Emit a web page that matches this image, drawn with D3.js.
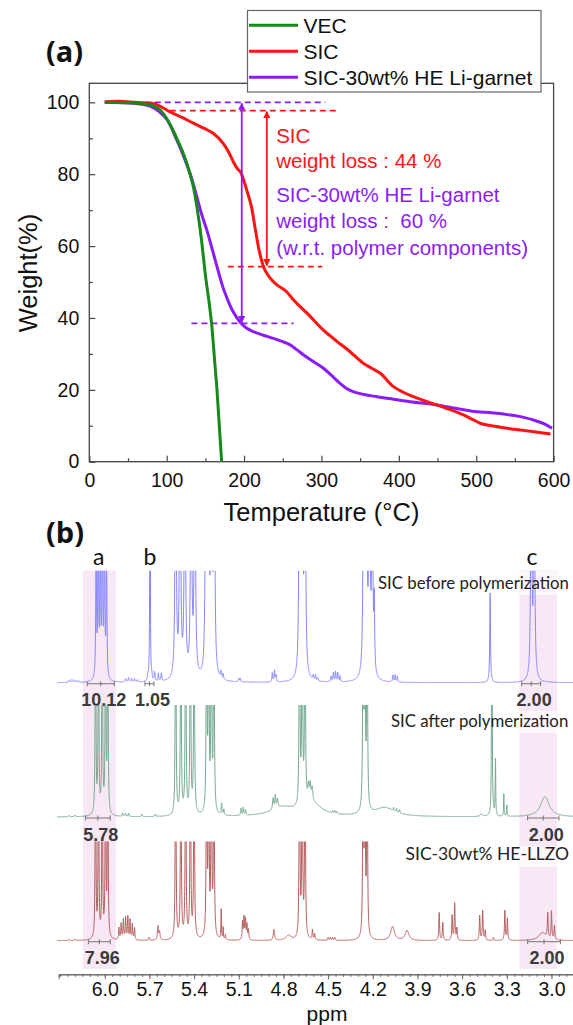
<!DOCTYPE html>
<html>
<head>
<meta charset="utf-8">
<script src="https://cdn.jsdelivr.net/npm/d3@7/dist/d3.min.js"></script>
<style>
  body { margin: 0; background: #fff; }
  svg { display: block; }
</style>
</head>
<body>
<svg id="chart" width="573" height="1025"></svg>
<script>
"use strict";

// /////// DATA

// (a) TGA curves: [temperature °C, weight %]
const vecCurve = [
  [20, 100], [60, 99.8], [80, 99.2], [92, 97.8], [100, 95.5], [108, 92.3], [115, 89],
  [122, 85.5], [130, 80.2], [135, 76], [139, 71], [145, 61.7], [150, 52], [155, 44],
  [158, 38.5], [162, 28], [165, 20], [168, 10], [171, 0], [173, -6],
];
const sicCurve = [
  [20, 100.2], [40, 100.3], [60, 100], [83, 99.7], [95, 98.5], [104, 97.4], [120, 95.8],
  [134.5, 94.2], [150, 92.6], [160, 91.4], [173, 88.6], [180, 86.2], [186, 83.5], [191, 81.6],
  [196, 80.4], [200, 78], [205, 74.5], [210, 70.5], [214, 65.4], [218.5, 59.8], [225, 54.3],
  [233, 51.3], [242, 49.3], [255, 47.3], [264, 45], [283, 41], [302.6, 36.6], [320, 33.5],
  [337, 30.6], [354, 27.4], [365, 26], [376, 24.6], [393, 20.9], [405, 19.4], [419, 18.1],
  [449, 15.8], [470, 14.2], [483.6, 13], [495, 11.8], [505, 10.7], [520, 10], [540, 9.3],
  [570, 8.5], [596, 7.7],
];
const garnetCurve = [
  [20, 100], [60, 99.7], [80, 98.8], [90, 97.5], [100, 95.3], [105, 93.5], [112, 90],
  [120, 86], [128, 81.5], [132, 79], [139, 73.7], [145, 69], [151.8, 64.5], [158, 59.8],
  [166, 53.5], [172, 49], [178, 45.5], [184, 42.5], [190, 40.3], [195, 38.8], [203, 37.2],
  [212, 36.2], [225, 35.2], [238, 34.3], [250, 33.4], [259.5, 32.5], [268, 31.2], [277, 29.7],
  [290, 27.8], [302.6, 26], [313, 24], [324, 21.8], [333, 20.3], [341, 19.5], [355, 18.7],
  [371.6, 18.1], [390, 17.5], [414.7, 16.7], [449, 15.8], [475, 14.8], [501, 13.9],
  [520, 13.6], [544, 13], [560, 12.4], [574, 11.6], [588, 10.5], [598, 9.3],
];

const seriesNames = ["VEC", "SIC", "SIC-30wt% HE Li-garnet"];
const tempTicks = [0, 100, 200, 300, 400, 500, 600];
const weightTicks = [0, 20, 40, 60, 80, 100];

// dashed guide lines: [weight, fromT, toT]
const sicGuides = [[97.7, 104, 320], [54.3, 179, 301]];
const garnetGuides = [[100, 20, 305], [38.5, 132, 264]];
// arrows: [temperature, from weight, to weight]
const sicArrow = [229.4, 97.7, 54.3];
const garnetArrow = [197, 100, 38.5];

const sicNote = ["SIC", "weight loss : 44 %"];
const garnetNote = ["SIC-30wt% HE Li-garnet", "weight loss :  60 %", "(w.r.t. polymer components)"];

// (b) 1H NMR peak tables: [ppm, height (1 = band height), half width ppm]
const beforePeaks = [
  [6.24, 0.02, 0.004], [6.22, 0.025, 0.004], [6.2, 0.02, 0.004], [6.18, 0.015, 0.004],
  [6.058, 1.3, 0.0028], [6.044, 1.6, 0.0028], [6.03, 1.5, 0.0028], [6.016, 1.7, 0.0028],
  [6.002, 1.5, 0.0028], [5.988, 1.2, 0.0028],
  [5.86, 0.03, 0.004], [5.84, 0.04, 0.004], [5.82, 0.03, 0.004], [5.8, 0.03, 0.004], [5.78, 0.02, 0.004],
  [5.71, 0.05, 0.003], [5.696, 3, 0.0018], [5.684, 0.04, 0.003],
  [5.665, 0.08, 0.003], [5.64, 0.07, 0.003], [5.62, 0.07, 0.003],
  [5.524, 3, 0.004], [5.494, 3, 0.004], [5.462, 3, 0.004], [5.42, 3, 0.004], [5.395, 3, 0.004],
  [5.321, 3, 0.004], [5.304, 3, 0.004], [5.284, 3, 0.004], [5.265, 3, 0.004],
  [5.22, 0.06, 0.003], [5.205, 0.05, 0.003], [5.1, 0.03, 0.003], [5.09, 0.03, 0.003],
  [4.875, 0.08, 0.003], [4.86, 0.1, 0.003], [4.85, 0.06, 0.003],
  [4.692, 3, 0.004], [4.674, 3, 0.004], [4.655, 3, 0.004],
  [4.6, 0.04, 0.003], [4.585, 0.05, 0.003], [4.57, 0.03, 0.003],
  [4.48, 0.05, 0.003], [4.465, 0.08, 0.003], [4.45, 0.09, 0.003], [4.435, 0.08, 0.003], [4.42, 0.05, 0.003],
  [4.261, 3, 0.004], [4.243, 3, 0.004], [4.222, 3, 0.004], [4.203, 2, 0.004], [4.19, 0.6, 0.003],
  [4.065, 0.06, 0.003], [4.05, 0.06, 0.003], [4.035, 0.05, 0.003],
  [3.412, 0.8, 0.003],
  [3.136, 2.5, 0.004], [3.116, 2.5, 0.004],
];
const afterPeaks = [
  [6.24, 0.01, 0.004], [6.2, 0.012, 0.004],
  [6.062, 3, 0.0022], [6.042, 3, 0.0022], [6.017, 3, 0.0022], [5.995, 3, 0.0022], [5.98, 3, 0.0022],
  [5.88, 0.03, 0.003], [5.86, 0.03, 0.003], [5.84, 0.03, 0.003], [5.75, 0.02, 0.003], [5.66, 0.02, 0.003],
  [5.524, 3, 0.0025], [5.489, 3, 0.0025], [5.457, 3, 0.0025], [5.425, 3, 0.0025], [5.4, 3, 0.0025],
  [5.316, 3, 0.0025], [5.302, 3, 0.0025], [5.284, 3, 0.0025], [5.267, 3, 0.0025],
  [5.215, 0.1, 0.003], [5.2, 0.05, 0.003],
  [5.085, 0.06, 0.003], [5.07, 0.07, 0.003], [5.055, 0.05, 0.003],
  [4.8, 0.08, 0.1], [4.6, 0.1, 0.07], [4.87, 0.1, 0.004], [4.855, 0.12, 0.004], [4.84, 0.08, 0.004],
  [4.692, 3, 0.0025], [4.674, 3, 0.0025], [4.655, 3, 0.0025],
  [4.632, 0.14, 0.005], [4.62, 0.15, 0.005], [4.607, 0.12, 0.005],
  [4.47, 0.02, 0.003], [4.455, 0.025, 0.003], [4.44, 0.02, 0.003],
  [4.265, 3, 0.0025], [4.253, 3, 0.0025], [4.238, 3, 0.0025],
  [4.12, 0.08, 0.08], [4.06, 0.03, 0.003], [4.04, 0.03, 0.003], [4.02, 0.03, 0.003],
  [3.47, 0.02, 0.01],
  [3.4, 3, 0.002], [3.376, 0.5, 0.002], [3.32, 0.2, 0.002], [3.3, 0.1, 0.002],
  [3.044, 0.18, 0.035],
];
const llzoPeaks = [
  [6.24, 0.01, 0.004], [6.2, 0.012, 0.004],
  [6.062, 3, 0.0022], [6.042, 3, 0.0022], [6.017, 3, 0.0022], [5.995, 3, 0.0022], [5.98, 3, 0.0022],
  [5.905, 0.12, 0.003], [5.89, 0.16, 0.003], [5.875, 0.2, 0.003], [5.86, 0.22, 0.003],
  [5.845, 0.23, 0.003], [5.83, 0.2, 0.003], [5.815, 0.16, 0.003], [5.8, 0.12, 0.003],
  [5.704, 0.03, 0.003], [5.643, 0.14, 0.004], [5.632, 0.08, 0.004],
  [5.524, 3, 0.0025], [5.489, 3, 0.0025], [5.457, 3, 0.0025], [5.425, 3, 0.0025], [5.4, 3, 0.0025],
  [5.316, 3, 0.0025], [5.302, 3, 0.0025], [5.284, 3, 0.0025], [5.267, 3, 0.0025],
  [5.218, 0.3, 0.002], [5.205, 0.12, 0.002], [5.19, 0.05, 0.003],
  [5.075, 0.18, 0.003], [5.065, 0.22, 0.003], [5.055, 0.2, 0.003], [5.045, 0.15, 0.003], [5.035, 0.1, 0.003],
  [4.864, 0.11, 0.005], [4.766, 0.05, 0.02],
  [4.692, 3, 0.0025], [4.674, 3, 0.0025], [4.655, 3, 0.0025],
  [4.605, 0.1, 0.003], [4.59, 0.06, 0.003],
  [4.5, 0.03, 0.003], [4.485, 0.03, 0.003], [4.47, 0.03, 0.003], [4.455, 0.03, 0.003],
  [4.265, 3, 0.0025], [4.253, 3, 0.0025], [4.238, 3, 0.0025],
  [4.067, 0.14, 0.015], [3.97, 0.1, 0.015],
  [3.754, 0.28, 0.003], [3.73, 0.18, 0.003], [3.667, 0.25, 0.003], [3.65, 0.37, 0.003], [3.635, 0.12, 0.003],
  [3.482, 0.25, 0.003], [3.462, 0.3, 0.003], [3.445, 0.1, 0.003], [3.39, 0.03, 0.003],
  [3.313, 0.3, 0.003], [3.296, 0.22, 0.003],
  [3.06, 0.08, 0.03], [3.025, 0.25, 0.003], [3.0, 0.28, 0.003], [2.98, 0.14, 0.003],
];

// integrals: [from ppm, to ppm, value]
const beforeIntegrals = [[6.118, 5.936, "10.12"], [5.73, 5.67, "1.05"], [3.2, 3.073, "2.00"]];
const afterIntegrals = [[6.13, 5.963, "5.78"], [3.16, 2.95, "2.00"]];
const llzoIntegrals = [[6.11, 5.963, "7.96"], [3.16, 2.94, "2.00"]];

const spectrumNames = ["SIC before polymerization", "SIC after polymerization", "SIC-30wt% HE-LLZO"];
const peakLetters = [["a", 6.04], ["b", 5.696], ["c", 3.13]];
const shadedRanges = [[6.147, 5.924], [3.215, 2.963]];
const ppmTicks = [6.0, 5.7, 5.4, 5.1, 4.8, 4.5, 4.2, 3.9, 3.6, 3.3, 3.0];

// /////// CHART (a)

const svg = d3.select("#chart");
const font = "'Liberation Sans', Arial, sans-serif";
const colors = { vec: "#17891a", sic: "#ff1414", garnet: "#8b1cf7" };

const x = d3.scaleLinear().domain([0, 600]).range([89.3, 553.6]);
const y = d3.scaleLinear().domain([0, 105.3]).range([461.7, 83.3]);

const topG = svg.append("g");

const clipA = svg.append("clipPath").attr("id", "clipA");
clipA.append("rect").attr("x", 89.3).attr("y", 83.3).attr("width", 464.3).attr("height", 378.4);

// axes with inward ticks
topG.append("g").attr("transform", "translate(0,461.7)")
  .call(d3.axisBottom(x).tickValues(tempTicks).tickSize(-6).tickPadding(11.5));
topG.append("g").attr("transform", "translate(0,461.7)")
  .call(d3.axisBottom(x).tickValues([50, 150, 250, 350, 450, 550]).tickSize(-3.5).tickFormat(""));
topG.append("g").attr("transform", "translate(89.3,0)")
  .call(d3.axisLeft(y).tickValues(weightTicks).tickSize(-6).tickPadding(10));
topG.append("g").attr("transform", "translate(89.3,0)")
  .call(d3.axisLeft(y).tickValues([10, 30, 50, 70, 90]).tickSize(-3.5).tickFormat(""));
topG.selectAll(".domain").remove();
topG.selectAll(".tick line").attr("stroke", "#444").attr("stroke-width", 1.2);
topG.selectAll(".tick text").attr("font-family", font).attr("font-size", 19.5).attr("fill", "#111");

// frame
topG.append("rect").attr("x", 89.3).attr("y", 83.3).attr("width", 464.3).attr("height", 378.4)
  .attr("fill", "none").attr("stroke", "#444").attr("stroke-width", 1.3);

topG.append("text").attr("x", 321.5).attr("y", 521).attr("text-anchor", "middle")
  .attr("font-family", font).attr("font-size", 25.5).attr("fill", "#111").text("Temperature (°C)");
topG.append("text").attr("transform", "translate(37,273) rotate(-90)").attr("text-anchor", "middle")
  .attr("font-family", font).attr("font-size", 25.5).attr("fill", "#111").text("Weight(%)");
topG.append("text").attr("x", 46).attr("y", 62).attr("font-family", "'Open Sans', sans-serif")
  .attr("font-weight", "bold").attr("font-size", 29).attr("fill", "#111").text("(a)");

// guide lines and arrows
svg.append("defs").html(`
  <marker id="arRed" viewBox="0 0 10 10" refX="9" refY="5" markerWidth="4" markerHeight="4" orient="auto-start-reverse">
    <path d="M0,0 L10,5 L0,10 z" fill="${colors.sic}"/></marker>
  <marker id="arPur" viewBox="0 0 10 10" refX="9" refY="5" markerWidth="4" markerHeight="4" orient="auto-start-reverse">
    <path d="M0,0 L10,5 L0,10 z" fill="${colors.garnet}"/></marker>`);

function guides(list, color) {
  topG.selectAll(null).data(list).join("line")
    .attr("x1", (d) => x(d[1])).attr("x2", (d) => x(d[2]))
    .attr("y1", (d) => y(d[0])).attr("y2", (d) => y(d[0]))
    .attr("stroke", color).attr("stroke-width", 1.8).attr("stroke-dasharray", "6,4");
}
guides(garnetGuides, colors.garnet);
guides(sicGuides, colors.sic);

function arrow(a, color, marker) {
  topG.append("line").attr("x1", x(a[0])).attr("x2", x(a[0]))
    .attr("y1", y(a[1]) + 1).attr("y2", y(a[2]) - 1)
    .attr("stroke", color).attr("stroke-width", 1.8)
    .attr("marker-start", `url(#${marker})`).attr("marker-end", `url(#${marker})`);
}

// curves
const line = d3.line().x((d) => x(d[0])).y((d) => y(d[1])).curve(d3.curveMonotoneX);
const curveG = topG.append("g").attr("clip-path", "url(#clipA)");
[[garnetCurve, colors.garnet], [sicCurve, colors.sic], [vecCurve, colors.vec]].forEach(([c, col]) => {
  curveG.append("path").datum(c).attr("d", line).attr("fill", "none")
    .attr("stroke", col).attr("stroke-width", 3).attr("stroke-linejoin", "round");
});
arrow(garnetArrow, colors.garnet, "arPur");
arrow(sicArrow, colors.sic, "arRed");

// annotation text
const noteY = [88.6, 81.7, 72.2, 65.0, 57.5];
sicNote.concat(garnetNote).forEach((t, i) => {
  topG.append("text").attr("x", x(241.5)).attr("y", y(noteY[i]))
    .attr("font-family", font).attr("font-size", 20.5)
    .attr("fill", i < 2 ? colors.sic : colors.garnet).attr("xml:space", "preserve").text(t);
});

// legend
const leg = topG.append("g");
leg.append("rect").attr("x", 247.5).attr("y", 10.5).attr("width", 293.5).attr("height", 81.5)
  .attr("fill", "#fff").attr("stroke", "#666").attr("stroke-width", 1.2);
[colors.vec, colors.sic, colors.garnet].forEach((col, i) => {
  const ly = 25.2 + i * 26;
  leg.append("line").attr("x1", 249).attr("x2", 298).attr("y1", ly).attr("y2", ly)
    .attr("stroke", col).attr("stroke-width", 3);
  leg.append("text").attr("x", 303.5).attr("y", ly + 7.5).attr("font-family", font)
    .attr("font-size", 21).attr("fill", "#111").text(seriesNames[i]);
});

// /////// CHART (b)

const ppm = d3.scaleLinear().domain([6.31, 2.85]).range([58.6, 573.8]);
const botG = svg.append("g");
const labelFont = "Lato, 'Noto Sans', sans-serif";

botG.append("text").attr("x", 46).attr("y", 543).attr("font-family", "'Open Sans', sans-serif")
  .attr("font-weight", "bold").attr("font-size", 29).attr("fill", "#111").text("(b)");

// shaded peak regions
botG.selectAll(null).data(shadedRanges).join("rect")
  .attr("x", (d) => ppm(d[0])).attr("width", (d) => ppm(d[1]) - ppm(d[0]))
  .attr("y", 570.5).attr("height", 398.5).attr("fill", "#f8e7f4");

botG.selectAll(null).data(peakLetters).join("text")
  .attr("x", (d) => ppm(d[1])).attr("y", 565).attr("text-anchor", "middle")
  .attr("font-family", labelFont).attr("font-size", 23).attr("fill", "#111").text((d) => d[0]);

const bands = [
  { peaks: beforePeaks, ints: beforeIntegrals, color: "#8585ff", base: 682.7, top: 570.7, nameY: 589, nameX: 378, box: [376, 571, 197, 24] },
  { peaks: afterPeaks, ints: afterIntegrals, color: "#72aa8e", base: 817, top: 705, nameY: 726.5, nameX: 391, box: [389, 711, 184, 22] },
  { peaks: llzoPeaks, ints: llzoIntegrals, color: "#b55d5d", base: 940.7, top: 841.5, nameY: 860, nameX: 405.5, box: [401, 846, 167, 21] },
];

function spectrum(peaks) {
  const pts = [];
  for (let p = 6.32; p >= 2.84; p -= 0.0005) {
    let v = 0;
    peaks.forEach(([p0, h, w]) => {
      const d = (p - p0) / w;
      v += h / (1 + d * d);
    });
    pts.push([p, v]);
  }
  return pts;
}

bands.forEach((b, i) => {
  const yb = d3.scaleLinear().domain([0, 1]).range([b.base, b.top]);
  const cid = `band${i}`;
  svg.append("clipPath").attr("id", cid).append("rect")
    .attr("x", 0).attr("y", b.top).attr("width", 573).attr("height", b.base - b.top + 10);

  // label box behind the spectrum
  botG.append("rect").attr("x", b.box[0]).attr("y", b.box[1]).attr("width", b.box[2]).attr("height", b.box[3])
    .attr("fill", "#fff").attr("opacity", 0.65);

  botG.append("path").datum(spectrum(b.peaks)).attr("clip-path", `url(#${cid})`)
    .attr("d", d3.line().x((d) => ppm(d[0])).y((d) => yb(d[1])))
    .attr("fill", "none").attr("stroke", b.color).attr("stroke-width", 1);

  botG.append("text").attr("x", b.nameX).attr("y", b.nameY).attr("font-family", labelFont)
    .attr("font-size", i < 2 ? 16.8 : 17.5).attr("fill", "#222").text(spectrumNames[i]);

  // integration marks and values
  b.ints.forEach(([p0, p1, val]) => {
    const yy = b.base + 1;
    const mid = (ppm(p0) + ppm(p1)) / 2;
    botG.append("line").attr("x1", ppm(p0)).attr("x2", ppm(p1)).attr("y1", yy).attr("y2", yy)
      .attr("stroke", "#777").attr("stroke-width", 1);
    [ppm(p0), mid, ppm(p1)].forEach((tx) => {
      botG.append("line").attr("x1", tx).attr("x2", tx).attr("y1", yy - 2.5).attr("y2", yy + 2.5)
        .attr("stroke", "#777").attr("stroke-width", 1);
    });
    botG.append("text").attr("x", mid + 3).attr("y", b.base + 23.5).attr("text-anchor", "middle")
      .attr("font-family", font).attr("font-weight", "bold").attr("font-size", 18)
      .attr("fill", "#3a3a3a").text(val);
  });
});

// ppm axis
const ppmAxis = botG.append("g").attr("transform", "translate(0,974.3)");
ppmAxis.call(d3.axisBottom(ppm).tickValues(ppmTicks).tickSize(5).tickPadding(3)
  .tickFormat(d3.format(".1f")));
ppmAxis.append("g").call(d3.axisBottom(ppm).tickValues(d3.range(6.3, 2.84, -0.05)).tickSize(2.5).tickFormat(""));
ppmAxis.selectAll(".domain").attr("stroke", "#666");
ppmAxis.selectAll(".tick line").attr("stroke", "#666");
ppmAxis.selectAll(".tick text").attr("font-family", font).attr("font-size", 19.5).attr("fill", "#111");
botG.append("text").attr("x", 327).attr("y", 1021).attr("text-anchor", "middle")
  .attr("font-family", font).attr("font-size", 21).attr("fill", "#111").text("ppm");
</script>
</body>
</html>
